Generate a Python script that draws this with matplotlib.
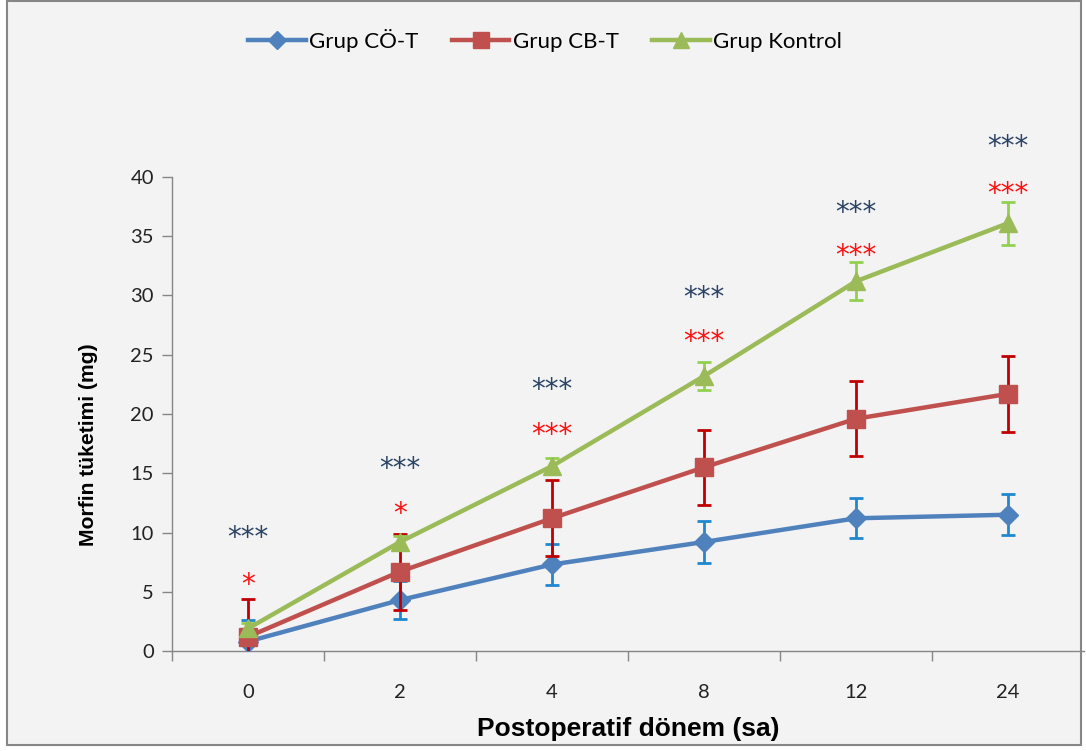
import matplotlib
matplotlib.use('Agg')
import matplotlib.pyplot as plt
from matplotlib.patches import Rectangle

# data
hours = ['0', '2', '4', '8', '12', '24']
co_t = [0.8, 4.3, 7.3, 9.2, 11.2, 11.5]
co_t_err = [1.8, 1.6, 1.7, 1.8, 1.7, 1.75]
cb_t = [1.2, 6.7, 11.2, 15.5, 19.6, 21.7]
cb_t_err = [3.2, 3.2, 3.2, 3.15, 3.15, 3.2]
kontrol = [1.9, 9.2, 15.6, 23.2, 31.2, 36.1]
kontrol_err = [0.5, 0.5, 0.7, 1.2, 1.6, 1.8]

# significance marks
navy_stars = ['***', '***', '***', '***', '***', '***']
navy_star_y = [10.2, 16.0, 22.7, 30.4, 37.6, 43.2]
red_stars = ['*', '*', '***', '***', '***', '***']
red_star_y = [6.2, 12.2, 18.9, 26.7, 34.0, 39.2]


def graph():
    plt.rcParams['font.family'] = ['Lato', 'DejaVu Sans']
    bg = '#F3F3F3'
    fig = plt.figure(figsize=(10.86, 7.51), dpi=100)
    fig.patch.set_facecolor('white')
    # chart border
    fig.patches.append(Rectangle((7 / 1086, 6 / 751), 1074 / 1086, 744 / 751,
                                 transform=fig.transFigure, facecolor=bg,
                                 edgecolor='#868686', linewidth=1.5, zorder=-10))

    ax = fig.add_axes([172 / 1086, 100 / 751, 912 / 1086, 474 / 751])
    ax.set_facecolor('none')
    x = list(range(len(hours)))

    ax.errorbar(x, co_t, yerr=co_t_err, color='#4F81BD', ecolor='#1F87D0',
                elinewidth=2, capsize=4.7, capthick=2, lw=3.2, marker='D',
                markersize=10.5, label='Grup CÖ-T', zorder=3)
    ax.errorbar(x, cb_t, yerr=cb_t_err, color='#C0504D', ecolor='#C00000',
                elinewidth=2, capsize=4.7, capthick=2, lw=3.2, marker='s',
                markersize=13, label='Grup CB-T', zorder=4)
    ax.errorbar(x, kontrol, yerr=kontrol_err, color='#9BBB59', ecolor='#92D050',
                elinewidth=2, capsize=4.7, capthick=2, lw=3.2, marker='^',
                markersize=13.5, label='Grup Kontrol', zorder=5)

    # asterisks: put the glyph centre on the value
    fs = 20
    for i in x:
        ax.annotate(navy_stars[i], (i, navy_star_y[i]), xytext=(0, -0.56 * fs),
                    textcoords='offset points', color='#2B4466', fontsize=fs,
                    family='DejaVu Sans', ha='center', va='baseline',
                    annotation_clip=False)
        ax.annotate(red_stars[i], (i, red_star_y[i]), xytext=(0, -0.56 * fs),
                    textcoords='offset points', color='#FF1010', fontsize=fs,
                    family='DejaVu Sans', ha='center', va='baseline',
                    annotation_clip=False)

    ax.set_xlim(-0.5, 5.5)
    ax.set_ylim(0, 40)
    ax.set_yticks(range(0, 41, 5))
    ax.set_xticks(x)
    ax.set_xticklabels(hours)
    ax.set_xticks([i - 0.5 for i in range(len(hours))], minor=True)
    ax.tick_params(axis='x', which='major', length=0, pad=24, labelsize=14.5,
                   labelcolor='#222222')
    ax.tick_params(axis='x', which='minor', length=7, width=1, color='#868686')
    ax.tick_params(axis='y', length=7, width=1, color='#868686', labelsize=14.5,
                   labelcolor='#222222', pad=6)
    for s in ['top', 'right']:
        ax.spines[s].set_visible(False)
    for s in ['left', 'bottom']:
        ax.spines[s].set_color('#868686')
        ax.spines[s].set_linewidth(1)

    lab_font = ['Liberation Sans', 'DejaVu Sans']
    ax.set_xlabel('Postoperatif dönem (sa)', fontsize=19, fontweight='bold',
                  family=lab_font, labelpad=11)
    ax.set_ylabel('Morfin tüketimi (mg)', fontsize=15.2, fontweight='bold',
                  family=lab_font)
    ax.yaxis.set_label_coords(-0.081, 0.435)

    h, l = ax.get_legend_handles_labels()
    h = [hh[0] for hh in h]
    fig.legend(h, l, loc='center', bbox_to_anchor=(545 / 1086, 1 - 40 / 751),
               ncol=3, frameon=False, fontsize=16, handlelength=2.6,
               columnspacing=1.5, handletextpad=0.15, markerscale=0.85)

    plt.savefig('out.png', dpi=100, facecolor=fig.get_facecolor())


if __name__ == '__main__':
    graph()
